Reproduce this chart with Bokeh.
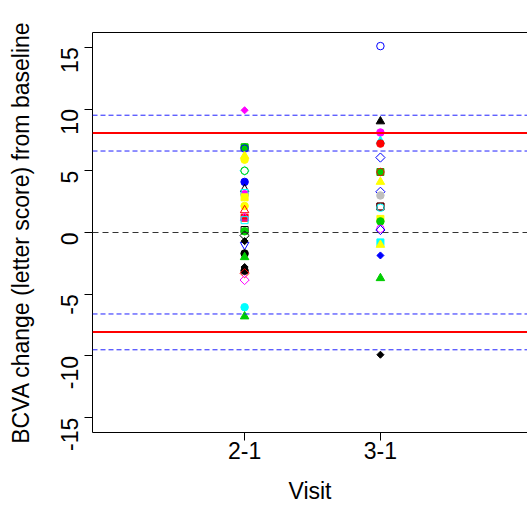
import math
from bokeh.plotting import figure
from bokeh.models import Range1d, FixedTicker, LinearAxis, Span, ColumnDataSource
from bokeh.embed import file_html
from bokeh.resources import INLINE

# ---- data ----
visits = ["2-1", "3-1"]
visit_pos = [1, 2]

# Visit 2-1: change from baseline, R pch code, colour
v21_change = [9.9, 6.9, 6.9, 6.8, 6.2, 5.9, 5.0, 5.0, 4.1, 3.5, 3.1, 3.2, 2.85,
              2.15, 1.8, 1.2, 1.2, 1.0, 0.2, 0.1, -0.25, -1.0, -0.7, -1.7,
              -2.0, -2.8, -3.1, -3.3, -3.85, -6.05, -6.8]
v21_pch = [18, 15, 16, 1, 17, 16, 5, 1, 16, 2, 16, 0, 15,
           16, 2, 15, 2, 0, 0, 16, 5, 6, 18, 16,
           17, 18, 16, 5, 5, 16, 17]
v21_col = ["magenta", "green", "green", "blue", "yellow", "yellow", "cyan", "green", "blue", "black", "magenta", "cyan", "yellow",
           "yellow", "red", "red", "magenta", "cyan", "black", "green", "black", "blue", "black", "black",
           "green", "black", "black", "red", "magenta", "cyan", "green"]

# Visit 3-1
v31_change = [15.1, 9.0, 8.1, 7.4, 7.2, 6.07, 4.9, 4.9, 4.1, 3.3, 3.0, 2.1, 2.1, 2.0,
              1.1, 0.9, 0.3, 0.2, -0.8, -1.0, -1.86, -3.7, -9.9]
v31_pch = [1, 17, 16, 17, 16, 5, 15, 1, 17, 5, 16, 0, 0, 1,
           15, 16, 1, 5, 15, 17, 18, 17, 18]
v31_col = ["blue", "black", "magenta", "cyan", "red", "blue", "green", "red", "yellow", "blue", "gray", "red", "black", "cyan",
           "yellow", "green", "magenta", "blue", "cyan", "yellow", "blue", "green", "black"]

# reference lines
zero_line = [0.0]
limits_of_agreement = [8.05, -8.05]
limit_ci = [9.5, 6.6, -6.6, -9.5]

y_ticks = [-15, -10, -5, 0, 5, 10, 15]
y_tick_labels = ["-15", "-10", "-5", "0", "5", "10", "15"]

# ---- styling maps ----
palette = {"black": "#000000", "red": "#FF0000", "green": "#00CD00", "blue": "#0000FF",
           "cyan": "#00FFFF", "magenta": "#FF00FF", "yellow": "#FFFF00", "gray": "#BEBEBE"}
# pch -> (marker, size, angle, filled)
pch_style = {
    0: ("square", 7, 0.0, False),
    1: ("circle", 7.5, 0.0, False),
    2: ("triangle", 8.5, 0.0, False),
    5: ("square", 6.5, math.pi / 4, False),
    6: ("inverted_triangle", 8.5, 0.0, False),
    15: ("square", 7, 0.0, True),
    16: ("circle", 7.5, 0.0, True),
    17: ("triangle", 8.5, 0.0, True),
    18: ("square", 5, math.pi / 4, True),
}

xs, ys, mk, sz, ang, lc, fc, fa = [], [], [], [], [], [], [], []
for pos, vals, pchs, cols in [(visit_pos[0], v21_change, v21_pch, v21_col),
                              (visit_pos[1], v31_change, v31_pch, v31_col)]:
    for v, pc, c in zip(vals, pchs, cols):
        m, s, a, f = pch_style[pc]
        xs.append(pos); ys.append(v); mk.append(m); sz.append(s); ang.append(a)
        lc.append(palette[c]); fc.append(palette[c]); fa.append(1.0 if f else 0.0)

src = ColumnDataSource(dict(x=xs, y=ys, marker=mk, size=sz, angle=ang,
                            lc=lc, fc=fc, fa=fa))

FONT = "Liberation Sans"
FS = "23px"

p = figure(width=527, height=507, output_backend="svg", toolbar_location=None,
           x_range=Range1d(-0.12, 3.083), y_range=Range1d(-16.2, 16.2),
           min_border_left=92, min_border_right=0, min_border_top=32, min_border_bottom=75)
p.outline_line_color = None
p.grid.visible = False
p.background_fill_color = "white"
p.border_fill_color = "white"

# x axis
xa = p.xaxis[0]
xa.ticker = FixedTicker(ticks=visit_pos)
xa.major_label_overrides = {visit_pos[i]: visits[i] for i in range(len(visits))}
xa.axis_label = "Visit"
# y axis
ya = p.yaxis[0]
ya.ticker = FixedTicker(ticks=y_ticks)
ya.major_label_overrides = {y_ticks[i]: y_tick_labels[i] for i in range(len(y_ticks))}
ya.axis_label = "BCVA change (letter score) from baseline"
ya.major_label_orientation = math.pi / 2

for ax in (xa, ya):
    ax.axis_line_color = "#000000"
    ax.axis_line_width = 1
    ax.major_tick_line_color = "#000000"
    ax.major_tick_out = 8
    ax.major_tick_in = 0
    ax.minor_tick_line_color = None
    ax.major_label_text_font = FONT
    ax.major_label_text_font_size = FS
    ax.major_label_text_color = "#000000"
    ax.axis_label_text_font = FONT
    ax.axis_label_text_font_size = FS
    ax.axis_label_text_font_style = "normal"
    ax.axis_label_text_color = "#000000"
xa.major_label_standoff = 1
xa.axis_label_standoff = 16
ya.major_label_standoff = 15
ya.axis_label_standoff = 16

top = LinearAxis(ticker=FixedTicker(ticks=[]), axis_line_color="#000000",
                 major_tick_line_color=None, minor_tick_line_color=None,
                 major_label_text_font_size="0px")
p.add_layout(top, "above")

# reference lines
for v in zero_line:
    p.add_layout(Span(location=v, dimension="width", line_color="#333333",
                      line_dash="6 4", line_width=1))
for v in limits_of_agreement:
    p.add_layout(Span(location=v, dimension="width", line_color="#FF0000",
                      line_width=2))
for v in limit_ci:
    p.add_layout(Span(location=v, dimension="width", line_color="#2020FF",
                      line_dash="5 3", line_width=1))

p.scatter(x="x", y="y", marker="marker", size="size", angle="angle",
          line_color="lc", fill_color="fc", fill_alpha="fa", line_width=1, source=src)

open("out.html", "w").write(file_html(p, INLINE))
